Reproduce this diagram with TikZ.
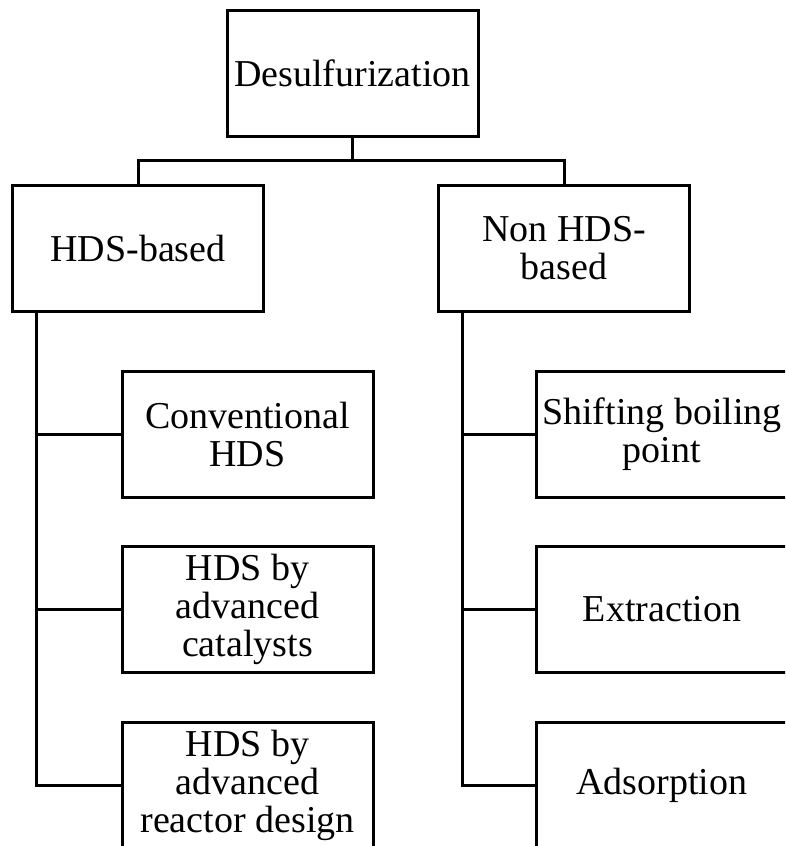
\documentclass[tikz,border=0pt]{standalone}
\usepackage{fontspec}
\setmainfont{Liberation Serif}
\usetikzlibrary{calc}
\begin{document}
\begin{tikzpicture}[x=1pt,y=-1pt,
  box/.style={draw=black, line width=3pt, fill=white, minimum width=251pt, minimum height=126pt,
    align=center, inner sep=0pt, font=\fontsize{38}{38}\selectfont},
  link/.style={draw=black, line width=3pt}]
\useasboundingbox (0,0) rectangle (785,846);
\clip (0,0) rectangle (785,846);
\node[box] (top) at (352.5,73) {Desulfurization};
\node[box] (hds) at (138,248) {HDS-based};
\node[box] (non) at (564,248) {Non HDS-\\based};
\node[box] (c1) at (247.5,434.5) {Conventional\\HDS};
\node[box] (c2) at (247.5,609) {HDS by\\advanced\\catalysts};
\node[box] (c3) at (247.5,785) {HDS by\\advanced\\reactor design};
\node[box] (r1) at (662,434.5) {Shifting boiling\\point};
\node[box] (r2) at (662,609) {Extraction};
\node[box] (r3) at (662,785) {Adsorption};
\coordinate (j) at ($(top.south)+(0,23)$);
\coordinate (lv) at ($(hds.south west)+(25,0)$);
\coordinate (rv) at ($(non.south west)+(25,0)$);
\draw[link] (top.south) -- (j);
\draw[link] (hds.north) -- (hds.north |- j) -- (non.north |- j) -- (non.north);
\draw[link] (lv) -- (lv |- c3.west) -- (c3.west);
\draw[link] (lv |- c1.west) -- (c1.west);
\draw[link] (lv |- c2.west) -- (c2.west);
\draw[link] (rv) -- (rv |- r3.west) -- (r3.west);
\draw[link] (rv |- r1.west) -- (r1.west);
\draw[link] (rv |- r2.west) -- (r2.west);
\end{tikzpicture}
\end{document}
